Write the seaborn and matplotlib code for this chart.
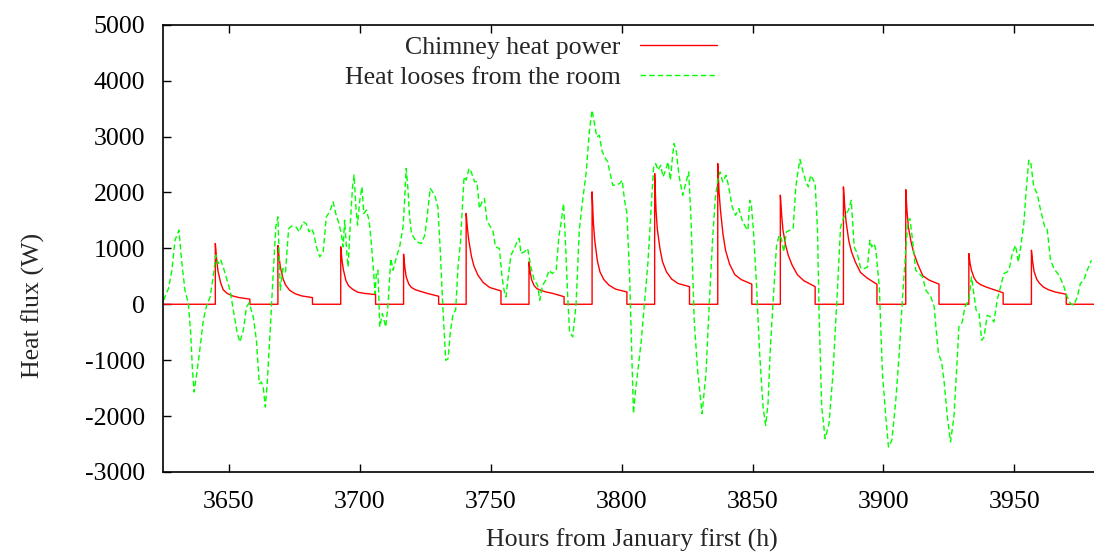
import numpy as np
import pandas as pd
import matplotlib
matplotlib.use("Agg")
import matplotlib.pyplot as plt
import seaborn as sns

# ---------------- data ----------------
red_hours = [3624.7,
             3644.8, 3644.8, 3645.3, 3645.8, 3646.8, 3647.8, 3649.3, 3651.3, 3653.8, 3658.0, 3658.0,
             3668.7, 3668.7, 3669.2, 3669.7, 3670.7, 3671.7, 3673.2, 3675.2, 3677.7, 3681.9, 3681.9,
             3692.7, 3692.7, 3693.2, 3693.7, 3694.7, 3695.7, 3697.2, 3699.2, 3701.7, 3706.0, 3706.0,
             3716.7, 3716.7, 3717.2, 3717.7, 3718.7, 3719.7, 3721.2, 3723.2, 3725.7, 3730.1, 3730.1,
             3740.6, 3740.6, 3741.1, 3741.6, 3742.6, 3743.6, 3745.1, 3747.1, 3749.6, 3753.9, 3753.9,
             3764.6, 3764.6, 3765.1, 3765.6, 3766.6, 3767.6, 3769.1, 3771.1, 3773.6, 3778.0, 3778.0,
             3788.7, 3788.7, 3789.2, 3789.7, 3790.7, 3791.7, 3793.2, 3795.2, 3797.7, 3802.0, 3802.0,
             3812.6, 3812.6, 3813.1, 3813.6, 3814.6, 3815.6, 3817.1, 3819.1, 3821.6, 3825.9, 3825.9,
             3836.7, 3836.7, 3837.2, 3837.7, 3838.7, 3839.7, 3841.2, 3843.2, 3845.7, 3849.7, 3849.7,
             3860.6, 3860.6, 3861.1, 3861.6, 3862.6, 3863.6, 3865.1, 3867.1, 3869.6, 3873.9, 3873.9,
             3884.7, 3884.7, 3885.2, 3885.7, 3886.7, 3887.7, 3889.2, 3891.2, 3893.7, 3897.5, 3897.5,
             3908.5, 3908.5, 3909.0, 3909.5, 3910.5, 3911.5, 3913.0, 3915.0, 3917.5, 3921.2, 3921.2,
             3932.6, 3932.6, 3933.1, 3933.6, 3934.6, 3935.6, 3937.1, 3939.1, 3941.6, 3945.7, 3945.7,
             3956.5, 3956.5, 3957.0, 3957.5, 3958.5, 3959.5, 3961.0, 3963.0, 3965.5, 3969.8, 3969.8,
             3980.5]
red_watts = [0,
             0, 1087, 800, 600, 390, 260, 195, 150, 120, 92, 0,
             0, 1050, 820, 650, 450, 340, 250, 190, 150, 119, 0,
             0, 1027, 780, 620, 420, 330, 270, 215, 195, 173, 0,
             0, 896, 650, 490, 360, 300, 260, 230, 195, 143, 0,
             0, 1624, 1350, 1146, 860, 680, 520, 390, 300, 239, 0,
             0, 758, 560, 440, 330, 280, 250, 220, 195, 135, 0,
             0, 2010, 1450, 1150, 780, 580, 440, 340, 270, 220, 0,
             0, 2337, 1700, 1350, 1000, 760, 580, 450, 370, 315, 0,
             0, 2516, 2000, 1700, 1250, 960, 720, 530, 440, 360, 0,
             0, 1950, 1600, 1330, 1060, 880, 700, 530, 420, 315, 0,
             0, 2099, 1750, 1480, 1150, 950, 760, 570, 470, 358, 0,
             0, 2051, 1650, 1383, 1120, 930, 727, 510, 430, 360, 0,
             0, 906, 720, 608, 470, 400, 350, 310, 270, 205, 0,
             0, 966, 750, 590, 450, 380, 310, 260, 220, 179, 0,
             0]

green_hours = [3625.0, 3626.9, 3628.2, 3629.4, 3630.9, 3631.9, 3633.2, 3634.5, 3635.4, 3636.0,
               3636.7, 3637.7, 3639.0, 3640.2, 3641.5, 3642.8, 3644.0, 3645.0, 3645.9, 3646.8,
               3647.8, 3649.1, 3650.4, 3651.9, 3653.2, 3654.2, 3655.5, 3656.7, 3657.7, 3659.3,
               3660.5, 3661.6, 3662.4, 3663.1, 3663.9, 3664.6, 3665.7, 3666.9, 3667.9, 3668.7,
               3669.6, 3670.6, 3671.6, 3672.8, 3673.9, 3675.6, 3676.8, 3678.4, 3679.5, 3680.6,
               3681.5, 3682.4, 3683.4, 3684.7, 3686.0, 3687.2, 3688.5, 3689.8, 3690.8, 3692.0,
               3692.9, 3693.6, 3694.2, 3694.9, 3695.5, 3696.4, 3697.2, 3697.8, 3698.4, 3699.1,
               3700.0, 3700.8, 3701.5, 3702.5, 3703.5, 3704.4, 3705.3, 3705.8, 3706.3, 3706.9,
               3707.6, 3708.6, 3709.9, 3710.8, 3711.8, 3712.7, 3714.0, 3715.2, 3716.5, 3717.1,
               3717.7, 3718.4, 3719.0, 3719.7, 3721.6, 3723.5, 3724.8, 3725.4, 3726.9, 3728.6,
               3729.8, 3730.7, 3731.7, 3732.8, 3733.7, 3734.5, 3735.6, 3736.6, 3737.5, 3738.4,
               3739.1, 3739.8, 3740.6, 3741.7, 3742.5, 3743.8, 3744.7, 3745.7, 3746.7, 3747.6,
               3748.5, 3749.8, 3750.8, 3751.8, 3753.3, 3754.3, 3755.2, 3755.8, 3756.5, 3757.7,
               3759.0, 3760.3, 3760.9, 3761.5, 3762.8, 3764.1, 3765.3, 3766.6, 3767.9, 3768.7,
               3769.8, 3771.0, 3772.3, 3773.5, 3775.0, 3776.0, 3776.9, 3777.8, 3778.5, 3779.4,
               3780.1, 3781.3, 3782.6, 3783.8, 3785.1, 3786.4, 3787.7, 3788.7, 3789.6, 3790.5,
               3791.5, 3792.4, 3793.4, 3794.7, 3795.3, 3796.6, 3797.9, 3799.2, 3800.2, 3801.1,
               3802.0, 3803.0, 3803.7, 3804.5, 3805.3, 3806.2, 3807.5, 3808.7, 3810.0, 3811.3,
               3812.2, 3813.0, 3813.9, 3814.9, 3815.8, 3816.8, 3817.7, 3818.6, 3819.4, 3820.0,
               3820.9, 3821.9, 3823.3, 3824.3, 3825.6, 3826.5, 3827.7, 3829.0, 3830.7, 3832.2,
               3833.4, 3834.7, 3835.8, 3836.7, 3837.6, 3838.6, 3839.9, 3840.9, 3842.2, 3843.5,
               3844.8, 3846.0, 3847.3, 3848.2, 3848.9, 3849.5, 3850.4, 3851.4, 3852.7, 3854.0,
               3855.0, 3855.9, 3856.8, 3857.8, 3859.1, 3860.1, 3861.0, 3861.9, 3862.9, 3864.2,
               3865.5, 3866.5, 3867.4, 3868.1, 3869.1, 3870.4, 3871.3, 3872.2, 3873.9, 3874.8,
               3875.4, 3876.4, 3877.7, 3879.2, 3880.7, 3882.4, 3883.6, 3884.9, 3886.6, 3887.7,
               3888.8, 3890.0, 3891.3, 3892.6, 3893.9, 3894.8, 3895.5, 3896.4, 3897.1, 3898.4,
               3899.6, 3900.9, 3901.9, 3903.2, 3904.7, 3906.0, 3907.2, 3908.5, 3909.4, 3910.1,
               3911.1, 3912.3, 3913.6, 3914.9, 3916.2, 3918.1, 3919.4, 3920.0, 3921.0, 3922.2,
               3923.1, 3924.4, 3925.6, 3926.9, 3928.2, 3928.8, 3930.1, 3931.1, 3932.6, 3933.6,
               3934.5, 3935.4, 3936.5, 3937.5, 3938.4, 3939.6, 3940.9, 3942.2, 3943.4, 3944.7,
               3946.0, 3947.3, 3948.2, 3949.2, 3950.4, 3951.5, 3952.4, 3953.6, 3954.5, 3955.5,
               3956.2, 3957.4, 3958.7, 3960.0, 3961.6, 3962.5, 3963.8, 3965.1, 3967.0, 3968.5,
               3970.2, 3971.4, 3972.7, 3974.0, 3975.2, 3976.5, 3977.8, 3979.4]
green_watts = [72, 281, 609, 1146, 1325, 788, 251, 12, -525, -1122,
               -1570, -1242, -764, -287, -18, 131, 490, 878, 728, 800,
               669, 460, 251, -167, -525, -675, -466, -48, 24, -227,
               -645, -1421, -1391, -1481, -1839, -1421, -525, 549, 1385, 1564,
               250, 638, 578, 1353, 1397, 1383, 1295, 1475, 1440, 1295,
               1355, 1266, 1027, 848, 937, 1564, 1654, 1833, 1624, 1445,
               1266, 1027, 1504, 997, 669, 1475, 2101, 2310, 1803, 1415,
               1863, 2101, 1624, 1684, 1504, 1087, 549, 191, 549, 609,
               -406, -167, -406, 12, 818, 609, 848, 1027, 1385, 1863,
               2430, 2042, 1564, 1266, 1116, 1087, 1234, 1445, 2072, 1952,
               1743, 967, -48, -1003, -973, -525, -167, -107, 669, 1087,
               1684, 2281, 2221, 2430, 2370, 2191, 2191, 1713, 1833, 1892,
               1504, 1385, 1325, 1027, 997, 490, 221, 131, 430, 878,
               997, 1146, 1176, 907, 937, 997, 669, 430, 340, 72,
               340, 430, 609, 549, 608, 1205, 1473, 1801, 1145, 131,
               -495, -584, 12, 1324, 1860, 2337, 3113, 3470, 3232, 2993,
               3023, 2755, 2636, 2546, 2397, 2129, 2129, 2159, 2218, 1860,
               1622, 549, -644, -1956, -1538, -1181, -644, 12, 728, 1741,
               2457, 2516, 2397, 2487, 2278, 2397, 2546, 2218, 2636, 2874,
               2725, 2300, 1950, 2129, 2367, 1503, -286, -1181, -1956, -1240,
               -48, 1145, 1920, 2218, 2367, 2188, 2308, 2099, 1741, 1592,
               1711, 1503, 1383, 1324, 1860, 1801, 1264, 429, -883, -1837,
               -2165, -1777, -763, 12, 1026, 1234, 1175, 936, 1294, 1324,
               1354, 2099, 2397, 2588, 2397, 2188, 2099, 2308, 2159, 1324,
               -167, -1837, -2403, -2135, -1240, 250, 1383, 1562, 1682, 1860,
               1026, 906, 638, 638, 668, 1145, 1026, 1085, 966, 310,
               -1240, -2016, -2552, -2433, -1717, -883, 72, 966, 1503, 1532,
               1145, 608, 549, 489, 250, 131, -48, -405, -883, -1032,
               -1360, -2016, -2463, -2016, -942, -405, -316, -48, 72, 489,
               191, -107, -167, -644, -584, -197, -227, -316, 72, 310,
               549, 578, 668, 906, 1055, 757, 1026, 1443, 2039, 2576,
               2546, 2099, 1980, 1682, 1383, 1354, 787, 638, 519, 370,
               131, 12, -18, 131, 370, 429, 608, 787]

series_labels = ["Chimney heat power", "Heat looses from the room"]
x_ticks = [3650, 3700, 3750, 3800, 3850, 3900, 3950]
y_ticks = [-3000, -2000, -1000, 0, 1000, 2000, 3000, 4000, 5000]

# ---------------- style ----------------
sns.set_theme(style="ticks")
plt.rcParams["font.family"] = ["Liberation Serif", "DejaVu Serif"]
plt.rcParams["lines.scale_dashes"] = False
plt.rcParams["axes.unicode_minus"] = False

FS = 18.6

red_df = pd.DataFrame({"h": red_hours, "w": red_watts})
green_df = pd.DataFrame({"h": green_hours, "w": green_watts})

fig = plt.figure(figsize=(10.94, 5.59), dpi=100)
ax = fig.add_axes([162.7 / 1094, 1 - 472 / 559, 1 - 162.7 / 1094, (472 - 24.7) / 559])

sns.lineplot(data=red_df, x="h", y="w", ax=ax, color="#ff0000", lw=1.0,
             estimator=None, sort=False, label=series_labels[0])
sns.lineplot(data=green_df, x="h", y="w", ax=ax, color="#00ff00", lw=1.0,
             estimator=None, sort=False, label=series_labels[1])
ax.lines[1].set_dashes((4, 2.2))

ax.set_xlim(3624.7, 3980.4)
ax.set_ylim(-3000, 5000)
ax.set_xticks(x_ticks)
ax.set_yticks(y_ticks)
ax.tick_params(direction="in", length=6, width=1.0, colors="black", labelsize=FS,
               top=True, right=False)
ax.tick_params(axis="y", pad=12.7)
ax.tick_params(axis="x", pad=14)
for side in ["left", "top", "bottom"]:
    ax.spines[side].set_linewidth(1.2)
    ax.spines[side].set_color("black")
ax.spines["right"].set_visible(False)

ax.set_xlabel("Hours from January first (h)", fontsize=FS)
ax.set_ylabel("Heat flux (W)", fontsize=FS)
ax.xaxis.set_label_coords(0.504, -0.127)
ax.yaxis.set_label_coords(-0.126, 0.373)

leg = ax.legend(loc="upper right", bbox_to_anchor=(717 / 1094, 1 - 36 / 559),
                bbox_transform=fig.transFigure, frameon=False, markerfirst=False,
                fontsize=FS, handlelength=3.0, handletextpad=0.74, labelspacing=0.26,
                borderpad=0, borderaxespad=0)
for t in leg.get_texts():
    t.set_ha("right")
leg._legend_box.align = "right"

fig.savefig("out.png", dpi=100)
